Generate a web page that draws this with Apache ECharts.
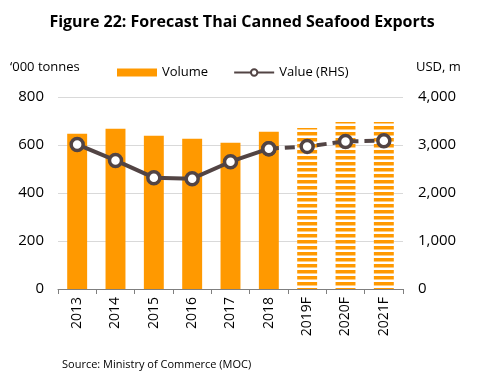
<!DOCTYPE html>
<html><head><meta charset="utf-8">
<script src="https://cdn.jsdelivr.net/npm/echarts@6/dist/echarts.min.js"></script>
<style>html,body{margin:0;padding:0;background:#fff}#c{width:484px;height:380px}</style>
</head><body><div id="c"></div>
<script>
var categories = ['2013','2014','2015','2016','2017','2018','2019F','2020F','2021F'];
var volume = [647, 668, 639, 626, 609, 655, 671, 696, 696];
var valueRHS = [3012, 2679, 2319, 2298, 2652, 2923, 2971, 3075, 3090];
var forecastFrom = 6;
var leftTicks = [0, 200, 400, 600, 800];
var rightTicks = [0, 1000, 2000, 3000, 4000];

var ORANGE = '#FF9900', LINE = '#524444';
var pc = document.createElement('canvas');
pc.width = 4; pc.height = 6;
var ctx = pc.getContext('2d');
ctx.fillStyle = '#fff'; ctx.fillRect(0,0,4,6);
ctx.fillStyle = ORANGE; ctx.fillRect(0,0,4,3.5);
var pattern = {image: pc, repeat: 'repeat'};

var barData = volume.map(function(v,i){
  return i >= forecastFrom ? {value: v, itemStyle: {color: pattern}} : v;
});
var solid = valueRHS.map(function(v,i){ return i <= forecastFrom-1 ? v : '-'; });
var dashed = valueRHS.map(function(v,i){ return i >= forecastFrom-1 ? v : '-'; });

var font = '"Open Sans", sans-serif';
var chart = echarts.init(document.getElementById('c'));
chart.setOption({
  animation: false,
  textStyle: {fontFamily: font},
  title: {text: 'Figure 22: Forecast Thai Canned Seafood Exports', left: 'center', top: 9,
    textStyle: {fontSize: 16, fontWeight: 'bold', color: '#000', fontFamily: font}},
  grid: {left: 58, right: 81, top: 97, bottom: 91},
  legend: {top: 61, left: 112, itemGap: 25, itemWidth: 40, itemHeight: 8,
    textStyle: {fontSize: 13, color: '#000', fontFamily: font},
    data: [{name: 'Volume', icon: 'rect'}, {name: 'Value (RHS)'}]},
  graphic: [
    {type: 'text', left: 10, top: 61, style: {text: '\u2018000 tonnes', fontSize: 13, fill: '#000', fontFamily: font}},
    {type: 'text', left: 416, top: 61, style: {text: 'USD, m', fontSize: 13, fill: '#000', fontFamily: font}},
    {type: 'text', left: 62, top: 359, style: {text: 'Source: Ministry of Commerce (MOC)', fontSize: 11, fill: '#000', fontFamily: font}}
  ],
  xAxis: {type: 'category', data: categories, boundaryGap: true,
    axisLine: {lineStyle: {color: '#7f7f7f'}},
    axisTick: {show: true, length: 5, lineStyle: {color: '#7f7f7f'}},
    axisLabel: {rotate: 90, fontSize: 14, color: '#000', margin: 8, fontFamily: font}},
  yAxis: [
    {type: 'value', min: 0, max: 800, interval: 200,
      axisLine: {show: false}, axisTick: {show: false},
      splitLine: {lineStyle: {color: '#d9d9d9'}},
      axisLabel: {fontSize: 15, color: '#000', margin: 14, fontFamily: font}},
    {type: 'value', min: 0, max: 4000, interval: 1000, position: 'right',
      axisLine: {show: false}, axisTick: {show: false}, splitLine: {show: false},
      axisLabel: {fontSize: 15, color: '#000', margin: 15, fontFamily: font,
        formatter: function(v){ return v.toLocaleString('en-US'); }}}
  ],
  series: [
    {name: 'Volume', type: 'bar', data: barData, barWidth: '52%',
      itemStyle: {color: ORANGE}},
    {name: 'Value (RHS)', type: 'line', yAxisIndex: 1, data: solid,
      symbol: 'circle', symbolSize: 12,
      itemStyle: {color: '#fff', borderColor: LINE, borderWidth: 3.5},
      lineStyle: {color: LINE, width: 4}, z: 5},
    {name: 'Value (RHS)', type: 'line', yAxisIndex: 1, data: dashed,
      symbol: 'circle', symbolSize: 12,
      itemStyle: {color: '#fff', borderColor: LINE, borderWidth: 3.5},
      lineStyle: {color: LINE, width: 4, type: [10, 6]}, z: 4}
  ]
});
</script></body></html>
